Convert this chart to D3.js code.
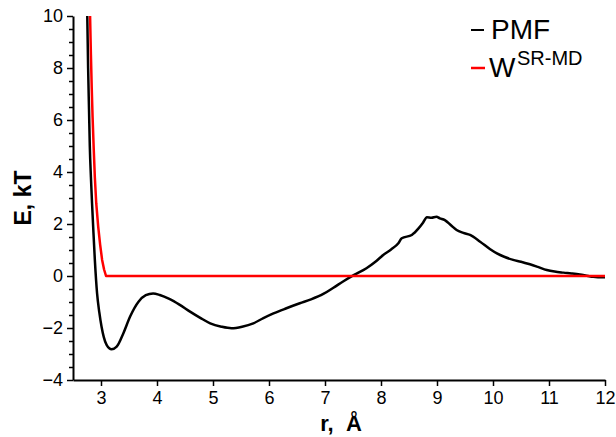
<!DOCTYPE html>
<html>
<head>
<meta charset="utf-8">
<script src="https://cdn.jsdelivr.net/npm/d3@7"></script>
<style>
  html, body { margin: 0; padding: 0; background: #fff; }
  svg { display: block; font-family: "Liberation Sans", Arial, sans-serif; }
</style>
</head>
<body>
<svg id="chart" width="616" height="437"></svg>
<script>
// Potential of mean force between the pair, r in Å, E in kT
const pmfR = [2.755, 2.77, 2.786, 2.80, 2.82, 2.84, 2.86, 2.89, 2.93, 2.97, 3.01, 3.05, 3.10, 3.19, 3.28, 3.40,
  3.52, 3.67, 3.80, 3.93, 4.05, 4.22, 4.40, 4.59, 4.78, 4.95, 5.15, 5.33, 5.52, 5.72, 5.90, 6.08, 6.30,
  6.55, 6.75, 6.97, 7.15, 7.33, 7.52, 7.74, 7.90, 8.04, 8.18, 8.31, 8.37, 8.55, 8.67, 8.75, 8.82, 8.90,
  8.99, 9.05, 9.14, 9.25, 9.35, 9.47, 9.59, 9.77, 9.95, 10.07, 10.20, 10.36, 10.50, 10.66, 10.80,
  10.96, 11.10, 11.26, 11.40, 11.55, 11.70, 11.79, 11.96, 12.0];
const pmfE = [10, 8, 6.4, 5, 3.8, 2.8, 1.9, 0.62, -0.67, -1.4, -1.95, -2.35, -2.65, -2.82, -2.72, -2.2,
  -1.56, -0.99, -0.74, -0.67, -0.73, -0.88, -1.1, -1.37, -1.62, -1.82, -1.95, -2.01, -1.95, -1.82, -1.62, -1.44, -1.25,
  -1.05, -0.9, -0.69, -0.45, -0.2, 0.04, 0.30, 0.55, 0.81, 1.02, 1.26, 1.45, 1.58, 1.83, 2.05, 2.26, 2.24,
  2.28, 2.22, 2.15, 1.95, 1.77, 1.66, 1.58, 1.32, 1.03, 0.87, 0.74, 0.62, 0.55, 0.45, 0.35,
  0.23, 0.17, 0.13, 0.10, 0.06, 0.0, -0.03, -0.05, -0.05];

// Short-range repulsive potential W^SR-MD
const wR = [2.805, 2.82, 2.835, 2.85, 2.87, 2.89, 2.915, 2.95, 2.985, 3.02, 3.055, 3.09, 12.0];
const wE = [10, 8.5, 7.2, 6.1, 4.9, 3.8, 2.8, 1.9, 1.2, 0.62, 0.25, 0, 0];

const xMajorTicks = [3, 4, 5, 6, 7, 8, 9, 10, 11, 12];
const yMajorTicks = [-4, -2, 0, 2, 4, 6, 8, 10];
const yMinorTicks = d3.range(-4, 10.01, 0.5).filter(v => Math.abs(v % 2) > 1e-9);

const svg = d3.select("#chart");
const margin = { left: 73, top: 16, right: 11, bottom: 57 };
const W = 616, H = 437;

const x = d3.scaleLinear().domain([2.5, 12]).range([margin.left, W - margin.right]);
const y = d3.scaleLinear().domain([-4, 10]).range([H - margin.bottom, margin.top]);

svg.append("rect").attr("width", W).attr("height", H).attr("fill", "#fff");

svg.append("clipPath").attr("id", "plot-clip")
  .append("rect")
  .attr("x", margin.left).attr("y", margin.top - 1)
  .attr("width", W - margin.left - margin.right + 2)
  .attr("height", H - margin.top - margin.bottom + 1);

// Axes
const xAxis = svg.append("g")
  .attr("transform", `translate(0,${H - margin.bottom})`)
  .call(d3.axisBottom(x).tickValues(xMajorTicks).tickFormat(d3.format("d")).tickSize(6).tickSizeOuter(0).tickPadding(5));

const yMinor = svg.append("g")
  .attr("transform", `translate(${margin.left},0)`)
  .call(d3.axisLeft(y).tickValues(yMinorTicks).tickFormat("").tickSize(4).tickSizeOuter(0));
yMinor.select(".domain").remove();

const yAxis = svg.append("g")
  .attr("transform", `translate(${margin.left},0)`)
  .call(d3.axisLeft(y).tickValues(yMajorTicks).tickFormat(d3.format("d")).tickSize(6).tickSizeOuter(0).tickPadding(4));

[xAxis, yAxis, yMinor].forEach(g => {
  g.selectAll("text").attr("font-size", 18).attr("fill", "#000")
    .attr("font-family", '"Liberation Sans", Arial, sans-serif');
  g.selectAll(".tick line").attr("stroke", "#000").attr("stroke-width", 1.5);
  g.select(".domain").attr("stroke", "#000").attr("stroke-width", 2);
});

// Curves
const pmfData = pmfR.map((r, i) => [r, pmfE[i]]);
const wData = wR.map((r, i) => [r, wE[i]]);

const plot = svg.append("g").attr("clip-path", "url(#plot-clip)");

plot.append("path")
  .datum(pmfData)
  .attr("fill", "none")
  .attr("stroke", "#000")
  .attr("stroke-width", 2.5)
  .attr("stroke-linejoin", "round")
  .attr("d", d3.line().x(d => x(d[0])).y(d => y(d[1])).curve(d3.curveMonotoneX));

plot.append("path")
  .datum(wData)
  .attr("fill", "none")
  .attr("stroke", "#ff0000")
  .attr("stroke-width", 2.5)
  .attr("stroke-linejoin", "round")
  .attr("d", d3.line().x(d => x(d[0])).y(d => y(d[1])));

// Axis titles
svg.append("text")
  .attr("x", 341).attr("y", 431)
  .attr("text-anchor", "middle")
  .attr("font-size", 22).attr("font-weight", "bold")
  .attr("xml:space", "preserve")
  .text("r,\u00a0 Å");

svg.append("text")
  .attr("transform", `translate(31,${(margin.top + H - margin.bottom) / 2}) rotate(-90)`)
  .attr("text-anchor", "middle")
  .attr("font-size", 23).attr("font-weight", "bold")
  .text("E, kT");

// Legend
const legend = svg.append("g");
legend.append("line").attr("x1", 471).attr("x2", 484).attr("y1", 30).attr("y2", 30)
  .attr("stroke", "#000").attr("stroke-width", 2);
legend.append("text").attr("x", 491).attr("y", 39)
  .attr("font-size", 28)
  .text("PMF");

legend.append("line").attr("x1", 471).attr("x2", 485).attr("y1", 68).attr("y2", 68)
  .attr("stroke", "#ff0000").attr("stroke-width", 2.5);
legend.append("text").attr("x", 489).attr("y", 77)
  .attr("font-size", 28)
  .text("W");
legend.append("text").attr("x", 517).attr("y", 65)
  .attr("font-size", 20)
  .text("SR-MD");
</script>
</body>
</html>
